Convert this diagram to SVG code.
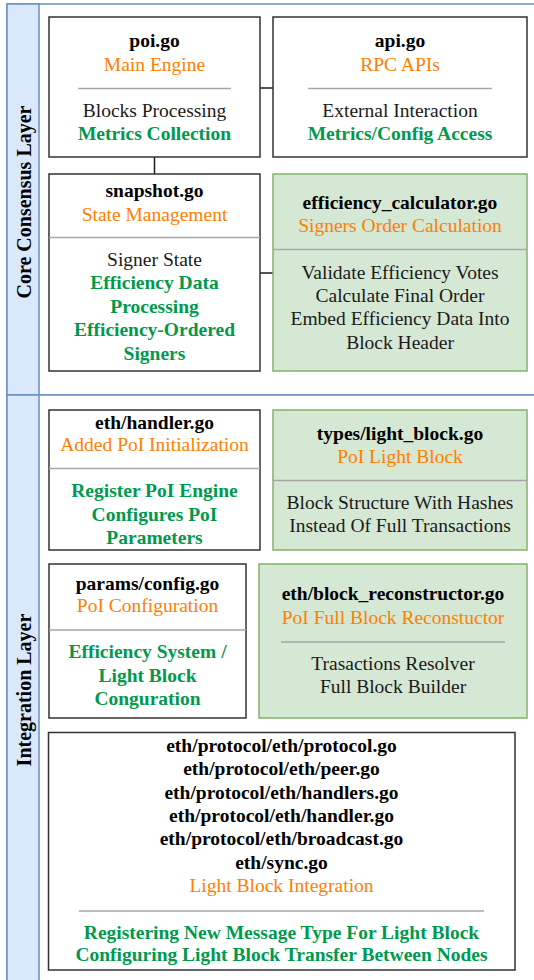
<svg xmlns="http://www.w3.org/2000/svg" width="534" height="980" viewBox="0 0 534 980">
<style>
text{font-family:'Liberation Serif','Times New Roman',serif;font-size:19.5px;text-anchor:middle}
.t{font-weight:bold;fill:#000}
.o{fill:#ff8000}
.k{fill:#1a1a1a}
.g{font-weight:bold;fill:#00994d}
.lane{fill:#ffffff;stroke:#6c8ebf;stroke-width:1.5}
.band{fill:#dae8fc;stroke:#6c8ebf;stroke-width:1.5}
.lt{font-weight:bold;font-size:20px;fill:#000}
.w{fill:#ffffff;stroke:#333333;stroke-width:1.5}
.gr{fill:#d5e8d4;stroke:#82b366;stroke-width:1.5}
.sep{stroke:#a6a6a6;stroke-width:1.5}
.c{stroke:#1a1a1a;stroke-width:1.5;fill:none}
</style>
<g id="lane-core">
<rect class="lane" x="7" y="4" width="540" height="391"/>
<rect class="band" x="7" y="4" width="32" height="391"/>
<text class="lt" transform="translate(31,202) rotate(-90)">Core Consensus Layer</text>
</g>
<g id="lane-integration">
<rect class="lane" x="7" y="395" width="540" height="600"/>
<rect class="band" x="7" y="395" width="32" height="600"/>
<text class="lt" transform="translate(31,690) rotate(-90)">Integration Layer</text>
</g>
<g id="connectors">
<line class="c" x1="154.5" y1="157" x2="154.5" y2="174"/>
<line class="c" x1="260" y1="88" x2="273" y2="88"/>
<line class="c" x1="260" y1="273" x2="273" y2="273"/>
</g>
<g id="poi">
<rect class="w" x="49" y="17" width="211" height="140"/>
<text class="t" x="154.5" y="47">poi.go</text>
<text class="o" x="154.5" y="71">Main Engine</text>
<line class="sep" x1="78" y1="88.5" x2="231" y2="88.5"/>
<text class="k" x="154.5" y="117">Blocks Processing</text>
<text class="g" x="154.5" y="140">Metrics Collection</text>
</g>
<g id="api">
<rect class="w" x="273" y="17" width="254" height="140"/>
<text class="t" x="400" y="47">api.go</text>
<text class="o" x="400" y="71">RPC APIs</text>
<line class="sep" x1="308" y1="88.5" x2="492" y2="88.5"/>
<text class="k" x="400" y="117">External Interaction</text>
<text class="g" x="400" y="140">Metrics/Config Access</text>
</g>
<g id="snapshot">
<rect class="w" x="49" y="174" width="211" height="197"/>
<text class="t" x="154.5" y="197">snapshot.go</text>
<text class="o" x="154.5" y="220.5">State Management</text>
<line class="sep" x1="49" y1="237.5" x2="260" y2="237.5"/>
<text class="k" x="154.5" y="265.5">Signer State</text>
<text class="g" x="154.5" y="289">Efficiency Data</text>
<text class="g" x="154.5" y="312.5">Processing</text>
<text class="g" x="154.5" y="336">Efficiency-Ordered</text>
<text class="g" x="154.5" y="359.5">Signers</text>
</g>
<g id="efficiency_calculator">
<rect class="gr" x="273" y="174" width="254" height="197"/>
<text class="t" x="400" y="208.5">efficiency_calculator.go</text>
<text class="o" x="400" y="232">Signers Order Calculation</text>
<line class="sep" x1="273" y1="249.5" x2="527" y2="249.5"/>
<text class="k" x="400" y="278.5">Validate Efficiency Votes</text>
<text class="k" x="400" y="302">Calculate Final Order</text>
<text class="k" x="400" y="325">Embed Efficiency Data Into</text>
<text class="k" x="400" y="348.5">Block Header</text>
</g>
<g id="eth_handler">
<rect class="w" x="49" y="410" width="211" height="140"/>
<text class="t" x="154.5" y="428.5">eth/handler.go</text>
<text class="o" x="154.5" y="450.5">Added PoI Initialization</text>
<line class="sep" x1="49" y1="468.5" x2="260" y2="468.5"/>
<text class="g" x="154.5" y="497">Register PoI Engine</text>
<text class="g" x="154.5" y="520.5">Configures PoI</text>
<text class="g" x="154.5" y="544">Parameters</text>
</g>
<g id="light_block">
<rect class="gr" x="273" y="410" width="254" height="140"/>
<text class="t" x="400" y="439.5">types/light_block.go</text>
<text class="o" x="400" y="463">PoI Light Block</text>
<line class="sep" x1="273" y1="480.5" x2="527" y2="480.5"/>
<text class="k" x="400" y="509">Block Structure With Hashes</text>
<text class="k" x="400" y="532">Instead Of Full Transactions</text>
</g>
<g id="params_config">
<rect class="w" x="49" y="564" width="197" height="154"/>
<text class="t" x="147.5" y="589.5">params/config.go</text>
<text class="o" x="147.5" y="612">PoI Configuration</text>
<line class="sep" x1="49" y1="630" x2="246" y2="630"/>
<text class="g" x="147.5" y="657.5">Efficiency System /</text>
<text class="g" x="147.5" y="681.5">Light Block</text>
<text class="g" x="147.5" y="705">Conguration</text>
</g>
<g id="block_reconstructor">
<rect class="gr" x="259" y="564" width="268" height="154"/>
<text class="t" x="393" y="600">eth/block_reconstructor.go</text>
<text class="o" x="393" y="623.5">PoI Full Block Reconstuctor</text>
<line class="sep" x1="281" y1="642" x2="505" y2="642"/>
<text class="k" x="393" y="670">Trasactions Resolver</text>
<text class="k" x="393" y="693">Full Block Builder</text>
</g>
<g id="eth_protocol">
<rect class="w" x="48.5" y="732.5" width="466.5" height="237.5"/>
<text class="t" x="281.5" y="752">eth/protocol/eth/protocol.go</text>
<text class="t" x="281.5" y="775">eth/protocol/eth/peer.go</text>
<text class="t" x="281.5" y="798.5">eth/protocol/eth/handlers.go</text>
<text class="t" x="281.5" y="822">eth/protocol/eth/handler.go</text>
<text class="t" x="281.5" y="845">eth/protocol/eth/broadcast.go</text>
<text class="t" x="281.5" y="868.5">eth/sync.go</text>
<text class="o" x="281.5" y="892">Light Block Integration</text>
<line class="sep" x1="79" y1="911" x2="484" y2="911"/>
<text class="g" x="281.5" y="938.5">Registering New Message Type For Light Block</text>
<text class="g" x="281.5" y="961">Configuring Light Block Transfer Between Nodes</text>
</g>
</svg>
